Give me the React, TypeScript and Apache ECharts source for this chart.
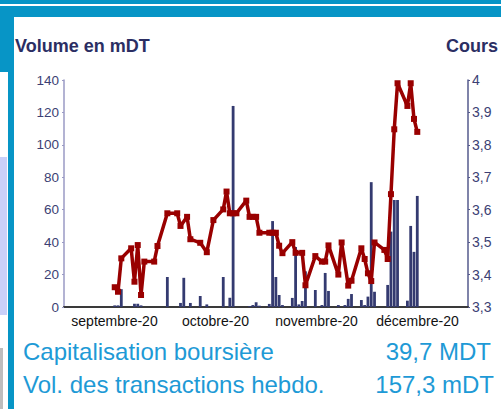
import React, { useEffect, useRef } from 'react';
import * as echarts from 'echarts';

const monthLabels = ['septembre-20', 'octobre-20', 'novembre-20', 'décembre-20'];

const priceDates = [
  '2020-09-16', '2020-09-17', '2020-09-18', '2020-09-21', '2020-09-22', '2020-09-23', '2020-09-24', '2020-09-25',
  '2020-09-28', '2020-09-29', '2020-10-02', '2020-10-05', '2020-10-06', '2020-10-08', '2020-10-09', '2020-10-12',
  '2020-10-14', '2020-10-16', '2020-10-19', '2020-10-20', '2020-10-21', '2020-10-22', '2020-10-23', '2020-10-26',
  '2020-10-27', '2020-10-28', '2020-10-29', '2020-10-30', '2020-11-02', '2020-11-03', '2020-11-04', '2020-11-05',
  '2020-11-06', '2020-11-09', '2020-11-10', '2020-11-12', '2020-11-13', '2020-11-16', '2020-11-18', '2020-11-19',
  '2020-11-20', '2020-11-23', '2020-11-24', '2020-11-26', '2020-11-27', '2020-11-30', '2020-12-01', '2020-12-02',
  '2020-12-03', '2020-12-04', '2020-12-07', '2020-12-08', '2020-12-09', '2020-12-10', '2020-12-11', '2020-12-14',
  '2020-12-15', '2020-12-16', '2020-12-17',
];
const priceValues = [
  3.361, 3.347, 3.45, 3.481, 3.378, 3.491, 3.337, 3.44,
  3.44, 3.488, 3.589, 3.589, 3.55, 3.578, 3.509, 3.498,
  3.469, 3.568, 3.601, 3.656, 3.589, 3.589, 3.589, 3.628,
  3.578, 3.578, 3.578, 3.529, 3.529, 3.529, 3.529, 3.489,
  3.466, 3.5, 3.467, 3.467, 3.367, 3.457, 3.44, 3.44,
  3.49, 3.4, 3.499, 3.366, 3.381, 3.481, 3.448, 3.404,
  3.38, 3.499, 3.476, 3.448, 3.648, 3.848, 3.99, 3.92,
  3.99, 3.88, 3.84,
];

const volumeDates = [
  '2020-09-16', '2020-09-17', '2020-09-18', '2020-09-22', '2020-09-23', '2020-09-24', '2020-10-02', '2020-10-06',
  '2020-10-07', '2020-10-09', '2020-10-12', '2020-10-14', '2020-10-19', '2020-10-21', '2020-10-22', '2020-10-27',
  '2020-10-28', '2020-10-29', '2020-10-30', '2020-11-02', '2020-11-03', '2020-11-04', '2020-11-05', '2020-11-06',
  '2020-11-09', '2020-11-10', '2020-11-11', '2020-11-12', '2020-11-13', '2020-11-16', '2020-11-18', '2020-11-19',
  '2020-11-20', '2020-11-23', '2020-11-25', '2020-11-26', '2020-11-27', '2020-11-30', '2020-12-01', '2020-12-02',
  '2020-12-03', '2020-12-04', '2020-12-08', '2020-12-09', '2020-12-10', '2020-12-11', '2020-12-14', '2020-12-15',
  '2020-12-16', '2020-12-17',
];
const volumeValues = [
  1, 1, 11, 2, 2, 1, 18.5, 2.5,
  18, 2.5, 6.8, 1.6, 18.5, 5.7, 124, 0.6,
  1.2, 2.9, 0.8, 1.9, 53, 18.5, 7.4, 1.2,
  5.6, 37, 1.6, 3.7, 22, 10.5, 1.2, 21,
  9.9, 1.2, 1.2, 5, 8, 4.3, 1.2, 6.4,
  77, 9.4, 13.6, 46.5, 66, 66, 3.9, 50,
  34, 68.5,
];

const FONT = '"Liberation Sans", Arial, Helvetica, sans-serif';
const BLUE = '#0795c6';

export default function App() {
  const ref = useRef<HTMLDivElement>(null);

  useEffect(() => {
    if (!ref.current) return;
    const chart = echarts.init(ref.current, undefined, { renderer: 'svg' });
    const fmtPrice = (v: number) => (Math.round(v * 10) / 10).toString().replace('.', ',');
    chart.setOption({
      animation: false,
      grid: { left: 64, right: 33, top: 80, bottom: 102, containLabel: false },
      xAxis: [
        {
          type: 'time',
          position: 'top',
          show: false,
          min: new Date(2020, 8, 1).getTime(),
          max: new Date(2021, 0, 1).getTime(),
        },
        {
          type: 'category',
          position: 'bottom',
          data: monthLabels,
          boundaryGap: true,
          axisLine: { show: true, lineStyle: { color: '#3a3a3a', width: 2 } },
          axisTick: { show: false },
          axisLabel: { color: '#111', fontSize: 14, fontFamily: FONT, margin: 7, interval: 0, hideOverlap: false },
          splitLine: { show: false },
        },
      ],
      yAxis: [
        {
          type: 'value',
          position: 'left',
          min: 0,
          max: 140,
          interval: 20,
          axisLine: { show: true, lineStyle: { color: '#9a9ac4', width: 1.5 } },
          axisTick: { show: true, length: 2, lineStyle: { color: '#9a9ac4' } },
          axisLabel: { color: '#3c3f74', fontSize: 13.5, fontFamily: FONT, margin: 5 },
          splitLine: { show: false },
        },
        {
          type: 'value',
          position: 'right',
          min: 3.3,
          max: 4,
          interval: 0.1,
          axisLine: { show: true, lineStyle: { color: '#555a8c', width: 1.5 } },
          axisTick: { show: true, length: 2, lineStyle: { color: '#555a8c' } },
          axisLabel: { color: '#3c3f74', fontSize: 14, fontFamily: FONT, margin: 4, formatter: fmtPrice },
          splitLine: { show: false },
        },
      ],
      series: [
        {
          type: 'bar',
          xAxisIndex: 0,
          yAxisIndex: 0,
          barWidth: 2.8,
          itemStyle: { color: '#343a70' },
          data: volumeDates.map((d, i) => [d, volumeValues[i]]),
        },
        {
          type: 'line',
          xAxisIndex: 0,
          yAxisIndex: 1,
          symbol: 'rect',
          symbolSize: 6,
          showSymbol: true,
          lineStyle: { color: '#990000', width: 3.5 },
          itemStyle: { color: '#990000' },
          data: priceDates.map((d, i) => [d, priceValues[i]]),
        },
      ],
      graphic: [
        {
          type: 'text',
          left: 15,
          top: 37,
          style: { text: 'Volume en mDT', font: `bold 18px ${FONT}`, fill: '#2b2e63' },
        },
        {
          type: 'text',
          left: 446,
          top: 37,
          style: { text: 'Cours', font: `bold 18px ${FONT}`, fill: '#2b2e63' },
        },
        {
          type: 'text',
          left: 23,
          top: 339,
          style: { text: 'Capitalisation boursière', font: `24px ${FONT}`, fill: '#1e9ad6' },
        },
        {
          type: 'text',
          right: 10,
          top: 339,
          style: { text: '39,7 MDT', font: `24px ${FONT}`, fill: '#1e9ad6' },
        },
        {
          type: 'text',
          left: 23,
          top: 372,
          style: { text: 'Vol. des transactions hebdo.', font: `24px ${FONT}`, fill: '#1e9ad6' },
        },
        {
          type: 'text',
          right: 7,
          top: 372,
          style: { text: '157,3 mDT', font: `24px ${FONT}`, fill: '#1e9ad6' },
        },
      ],
    });
    return () => chart.dispose();
  }, []);

  const box = (l: number, t: number, w: number, h: number, c: string): React.CSSProperties => ({
    position: 'absolute', left: l, top: t, width: w, height: h, background: c,
  });

  return (
    <div style={{ position: 'fixed', left: 0, top: 0, width: 501, height: 409, background: '#fff', overflow: 'hidden' }}>
      <div style={box(0, 0, 501, 4, BLUE)} />
      <div style={box(0, 6, 501, 11, BLUE)} />
      <div style={box(0, 6, 14, 66, BLUE)} />
      <div style={box(0, 157, 7, 158, '#c9d0f9')} />
      <div style={box(0, 348, 3, 61, '#bdbdbd')} />
      <div style={box(8, 17, 6, 392, BLUE)} />
      <div ref={ref} style={{ position: 'absolute', left: 0, top: 0, width: 501, height: 409 }} />
    </div>
  );
}
